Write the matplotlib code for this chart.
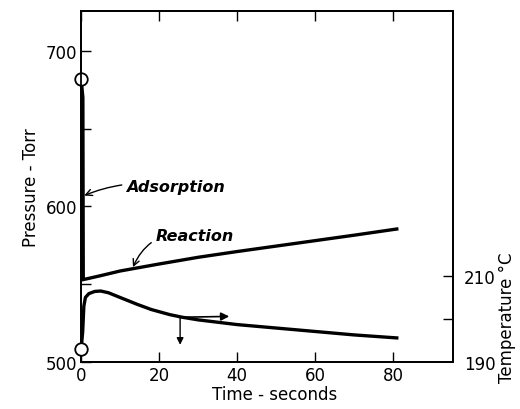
import matplotlib
matplotlib.use("Agg")
import matplotlib.pyplot as plt

# Data
press_t = [0.0, 0.45, 0.55, 1.5, 5, 10, 20, 30, 40, 50, 60, 70, 81]
press_p = [682, 670, 553, 553.5, 555.5, 558.5, 563.0, 567.3, 571, 574.5, 578, 581.5, 585.5]
temp_t = [0.0, 0.4, 0.7, 1.1, 2, 3.5, 5, 7, 10, 14.4, 18, 22.8, 26, 30, 40, 50, 60, 70, 81]
temp_T = [193, 197, 203, 205, 205.9, 206.4, 206.5, 206.1, 205.0, 203.4, 202.2, 201.0, 200.4, 199.8, 198.7, 197.9, 197.1, 196.3, 195.6]
x_ticks = [0, 20, 40, 60, 80]
p_ticks = [500, 600, 700]
p_minor = [550, 650]
T_ticks = [190, 210]
T_minor = [200]

fig = plt.figure(figsize=(5.2, 4.1), dpi=100)
ax = fig.add_axes([0.156, 0.1146, 0.715, 0.8564])
ax.set_xlim(0, 95.4)
ax.set_ylim(500, 725.7)
ax2 = ax.twinx()
ax2.set_ylim(190, 271.6)

for a in (ax, ax2):
    for s in a.spines.values():
        s.set_linewidth(1.3)

ax.plot(press_t, press_p, color='black', lw=2.4, solid_joinstyle='miter')
ax2.plot(temp_t, temp_T, color='black', lw=2.4, solid_joinstyle='round')
ax.plot([press_t[0]], [press_p[0]], 'o', ms=9, mfc='white', mec='black', mew=1.3, clip_on=False, zorder=5)
ax2.plot([temp_t[0]], [temp_T[0]], 'o', ms=9, mfc='white', mec='black', mew=1.3, clip_on=False, zorder=5)

ax.set_xticks(x_ticks)
ax.set_yticks(p_ticks)
ax.set_yticks(p_minor, minor=True)
ax.tick_params(axis='both', which='both', direction='in', length=7, width=1.0, labelsize=12, pad=3, top=True)
ax2.set_yticks(T_ticks)
ax2.set_yticks(T_minor, minor=True)
ax2.tick_params(axis='y', which='both', direction='in', length=7, width=1.0, labelsize=12, pad=8)
ax2.yaxis.get_major_ticks()[0].tick2line.set_visible(False)

ax.set_xlabel('Time - seconds', fontsize=12, labelpad=0)
ax.xaxis.set_label_coords(0.52, -0.065)
ax.set_ylabel('Pressure - Torr', fontsize=12, labelpad=4)
ax2.set_ylabel('Temperature °C', fontsize=12, labelpad=6)
ax2.yaxis.set_label_coords(1.122, 0.13)

ax.annotate('Adsorption', xy=(0.8, 607), xytext=(11.5, 613),
            fontsize=11.5, style='italic', weight='bold', va='center', ha='left',
            arrowprops=dict(arrowstyle='->', color='black', lw=1.0,
                            connectionstyle='arc3,rad=0.15', shrinkA=1, shrinkB=0))
ax.annotate('Reaction', xy=(13.3, 561), xytext=(19, 581.5),
            fontsize=11.5, style='italic', weight='bold', va='center', ha='left',
            arrowprops=dict(arrowstyle='->', color='black', lw=1.0,
                            connectionstyle='arc3,rad=0.4', shrinkA=1, shrinkB=0))
ax2.annotate('', xy=(38, 200.6), xytext=(25, 200.4),
             arrowprops=dict(arrowstyle='-|>', color='black', lw=1.2, mutation_scale=12, shrinkA=0, shrinkB=0))
ax2.annotate('', xy=(25.4, 194.0), xytext=(25.4, 200.4),
             arrowprops=dict(arrowstyle='-|>', color='black', lw=1.0, mutation_scale=10, shrinkA=0, shrinkB=0))

fig.savefig('out.png', dpi=100)
